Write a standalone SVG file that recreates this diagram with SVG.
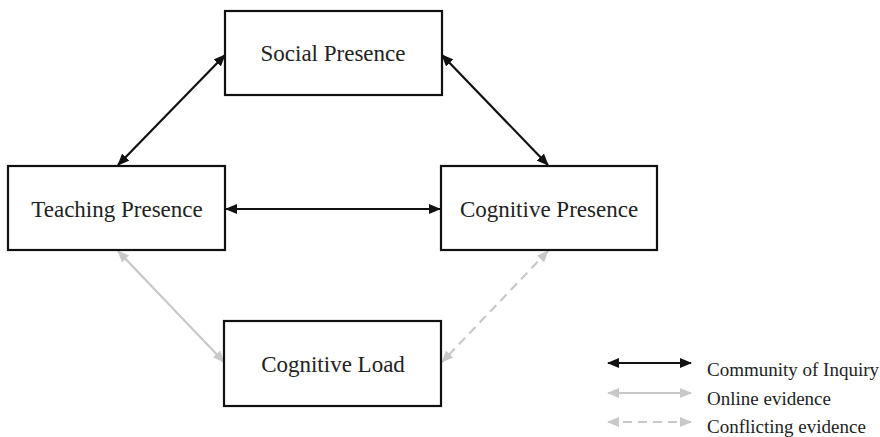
<svg xmlns="http://www.w3.org/2000/svg" width="880" height="437" viewBox="0 0 880 437">
<style>
.box{fill:#fff;stroke:#111;stroke-width:2.2}
.lbl{font-family:"Liberation Serif","Times New Roman",serif;font-size:23px;fill:#222;text-anchor:middle}
.leg{font-family:"Liberation Serif","Times New Roman",serif;font-size:19px;fill:#222}
.blk{stroke:#111;stroke-width:2.2;fill:none}
.gry{stroke:#c8c8c8;stroke-width:2.2;fill:none}
.dsh{stroke:#c8c8c8;stroke-width:2.2;fill:none;stroke-dasharray:9 6}
</style>
<defs>
<marker id="ab" viewBox="0 0 12 10" refX="11" refY="5" markerWidth="12" markerHeight="10" markerUnits="userSpaceOnUse" orient="auto-start-reverse"><path d="M0,0 L12,5 L0,10 Z" fill="#111"/></marker>
<marker id="ag" viewBox="0 0 12 10" refX="11" refY="5" markerWidth="12" markerHeight="10" markerUnits="userSpaceOnUse" orient="auto-start-reverse"><path d="M0,0 L12,5 L0,10 Z" fill="#c8c8c8"/></marker>
</defs>
<g id="connectors">
<line class="blk" x1="225" y1="55" x2="118" y2="165" marker-start="url(#ab)" marker-end="url(#ab)"/>
<line class="blk" x1="442" y1="55" x2="548" y2="165" marker-start="url(#ab)" marker-end="url(#ab)"/>
<line class="blk" x1="226" y1="209" x2="440" y2="209" marker-start="url(#ab)" marker-end="url(#ab)"/>
<line class="gry" x1="118" y1="251" x2="224" y2="362" marker-start="url(#ag)" marker-end="url(#ag)"/>
<line class="dsh" x1="548" y1="251" x2="442" y2="362" marker-start="url(#ag)" marker-end="url(#ag)"/>
</g>
<g id="social"><rect class="box" x="225" y="11" width="217" height="84"/><text class="lbl" x="333" y="61">Social Presence</text></g>
<g id="teaching"><rect class="box" x="8" y="166" width="217" height="84"/><text class="lbl" x="117" y="217">Teaching Presence</text></g>
<g id="cognitive"><rect class="box" x="441" y="166" width="216" height="84"/><text class="lbl" x="549" y="217">Cognitive Presence</text></g>
<g id="load"><rect class="box" x="224" y="321" width="217" height="85"/><text class="lbl" x="333" y="372">Cognitive Load</text></g>
<g id="legend">
<line class="blk" x1="608" y1="363" x2="691" y2="363" marker-start="url(#ab)" marker-end="url(#ab)"/>
<text class="leg" x="707" y="376">Community of Inquiry</text>
<line class="gry" x1="608" y1="393" x2="691" y2="393" marker-start="url(#ag)" marker-end="url(#ag)"/>
<text class="leg" x="707" y="405">Online evidence</text>
<line class="dsh" x1="608" y1="422" x2="691" y2="422" marker-start="url(#ag)" marker-end="url(#ag)"/>
<text class="leg" x="707" y="433">Conflicting evidence</text>
</g>
</svg>
